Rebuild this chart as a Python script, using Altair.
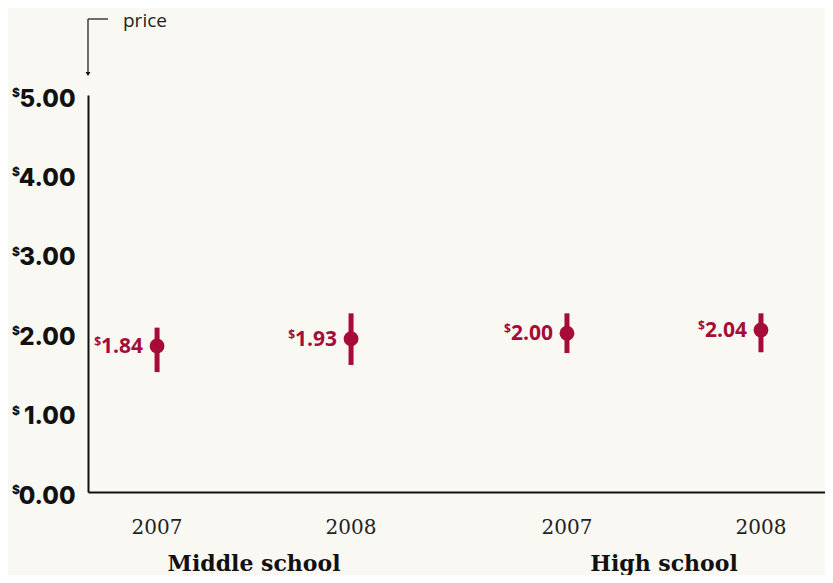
import altair as alt
import pandas as pd

# ---- data ----
schools = ["Middle school", "Middle school", "High school", "High school"]
years = ["2007", "2008", "2007", "2008"]
price = [1.84, 1.93, 2.00, 2.04]
low = [1.51, 1.60, 1.75, 1.76]
high = [2.07, 2.25, 2.25, 2.25]
y_ticks = [0, 1, 2, 3, 4, 5]
school_order = ["Middle school", "High school"]
year_order = ["2007", "2008"]

df = pd.DataFrame({
    "school": schools,
    "year": years,
    "price": price,
    "low": low,
    "high": high,
})
df["label"] = df["price"].map(lambda v: f"{v:.2f}")
ticks_df = pd.DataFrame({"v": y_ticks})
dummy = pd.DataFrame({"a": [0]})

W, H = 737, 397
RED = "#a50d38"
INK = "#111111"

xscale = alt.Scale(domain=school_order, paddingInner=0.3, paddingOuter=0.049, align=0.5625)
xoscale = alt.Scale(domain=year_order, paddingInner=0.521, paddingOuter=0)
yscale = alt.Scale(domain=[0, 5], nice=False, zero=True)

x_axis = alt.Axis(
    ticks=False, grid=False, title=None, labelAngle=0,
    domainColor=INK, domainWidth=2,
    labelFont="DejaVu Serif", labelFontSize=22, labelFontWeight="bold",
    labelColor=INK, labelPadding=78, labelBaseline="alphabetic",
)
y_axis = alt.Axis(
    values=y_ticks,
    labelExpr="format(datum.value, '.2f')",
    ticks=False, grid=False, title=None,
    domainColor=INK, domainWidth=2,
    labelFont="Inter", labelFontSize=24, labelFontWeight=800, labelColor=INK,
    labelPadding=13, labelOffset=4,
)


def X():
    return alt.X("school:N", scale=xscale, axis=x_axis, sort=school_order, title=None)


def XO():
    return alt.XOffset("year:N", scale=xoscale, sort=year_order)


def Y(field):
    return alt.Y(field, scale=yscale, axis=y_axis, title=None)


base = alt.Chart(df)

bars = base.mark_rule(color=RED, strokeWidth=5).encode(
    x=X(), xOffset=XO(), y=Y("low:Q"), y2="high:Q",
)

points = base.mark_circle(color=RED, size=220, opacity=1).encode(
    x=X(), xOffset=XO(), y=Y("price:Q"),
)

labels = base.mark_text(
    color=RED, font="Open Sans", fontSize=21, fontWeight=700,
    align="right", baseline="middle", dx=-14, dy=1,
).encode(x=X(), xOffset=XO(), y=Y("price:Q"), text="label:N")

label_dollar = base.mark_text(
    color=RED, font="Open Sans", fontSize=12, fontWeight=700,
    align="right", baseline="middle", dx=-56, dy=-4,
).encode(x=X(), xOffset=XO(), y=Y("price:Q"), text=alt.value("$"))

year_labels = base.mark_text(
    color="#222222", font="DejaVu Serif", fontSize=20,
    align="center", baseline="middle",
).encode(x=X(), xOffset=XO(), y=alt.value(H + 36), text="year:N")

axis_dollar = alt.Chart(ticks_df).mark_text(
    color=INK, font="Inter", fontSize=12, fontWeight=800,
    align="right", baseline="middle", dy=-2,
).encode(x=alt.value(-68), y=Y("v:Q"), text=alt.value("$"))

ann_h = alt.Chart(dummy).mark_rule(color=INK, strokeWidth=1.2).encode(
    x=alt.value(0), x2=alt.value(20), y=alt.value(-76), y2=alt.value(-76)
)
ann_v = alt.Chart(dummy).mark_rule(color=INK, strokeWidth=1.2).encode(
    x=alt.value(0), y=alt.value(-76), y2=alt.value(-21)
)
ann_head = alt.Chart(dummy).mark_point(
    shape="triangle-down", filled=True, size=24, color=INK, opacity=1
).encode(x=alt.value(0), y=alt.value(-21))
ann_text = alt.Chart(dummy).mark_text(
    font="Open Sans", fontSize=19, color="#222222", align="left", baseline="alphabetic"
).encode(x=alt.value(35), y=alt.value(-68), text=alt.value("price"))

chart = alt.layer(
    bars, points, labels, label_dollar, year_labels, axis_dollar,
    ann_h, ann_v, ann_head, ann_text,
).properties(
    width=W, height=H,
    autosize=alt.AutoSizeParams(type="none"),
    padding={"left": 80, "top": 87, "right": 0, "bottom": 83},
    background="#faf8f3",
).configure_view(stroke=None)

chart.save("out.html", embed_options={"renderer": "svg", "actions": False})
